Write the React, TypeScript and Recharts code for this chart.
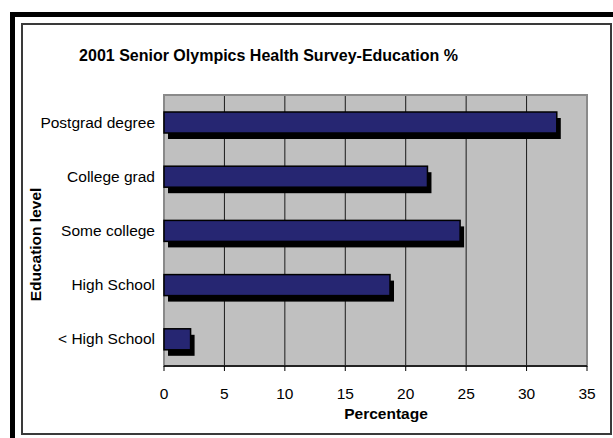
import React from 'react';
import { BarChart, Bar, XAxis, YAxis, CartesianGrid, ReferenceArea } from 'recharts';

const categories = ['Postgrad degree', 'College grad', 'Some college', 'High School', '< High School'];
const percentages = [32.5, 21.8, 24.5, 18.7, 2.2];
const xTicks = [0, 5, 10, 15, 20, 25, 30, 35];
const bandEdges = [0, 1, 2, 3, 4, 5];

const data = categories.map((c, i) => ({ level: c, pct: percentages[i] }));

const FONT = '"Liberation Sans", Arial, Helvetica, sans-serif';

const ShadowBar = (props: any) => {
  const { x, y, width, height } = props;
  if (!width || width <= 0) return null;
  return (
    <g>
      <rect x={x + 4} y={y + 6} width={width} height={height} fill="#000" />
      <rect x={x} y={y} width={width} height={height} fill="#262672" stroke="#000" strokeWidth={1.5} />
    </g>
  );
};

export default function App() {
  return (
    <div style={{ position: 'absolute', left: 0, top: 0, width: 613, height: 438, background: '#fff', overflow: 'hidden', fontFamily: FONT }}>
      <div style={{ position: 'absolute', left: 10, top: 12, width: 700, height: 500, borderLeft: '5px solid #000', borderTop: '5px solid #000' }} />
      <div style={{ position: 'absolute', left: 21, top: 23, width: 587, height: 408, border: '2px solid #3a3a3a' }} />
      <div style={{ position: 'absolute', left: 0, top: 0 }}>
        <BarChart
          width={613}
          height={438}
          data={data}
          layout="vertical"
          margin={{ top: 95, right: 26, bottom: 42, left: 0 }}
          barSize={21}
        >
          <CartesianGrid horizontal={false} vertical={true} fill="#c0c0c0" stroke="#1a1a1a" strokeWidth={1} />
          <ReferenceArea x1={0} x2={35} fill="none" stroke="#8a8a8a" strokeWidth={2} ifOverflow="visible" />
          <YAxis
            yAxisId="edges"
            type="number"
            orientation="left"
            domain={[0, 5]}
            ticks={bandEdges}
            width={0}
            tick={false}
            tickSize={5}
            axisLine={{ stroke: '#555', strokeWidth: 1.5 }}
            tickLine={{ stroke: '#333' }}
          />
          <YAxis
            dataKey="level"
            type="category"
            width={164}
            axisLine={false}
            tickLine={false}
            tickSize={6}
            tickMargin={3}
            tick={{ fill: '#000', fontSize: 15.5, fontFamily: FONT }}
          />
          <XAxis
            type="number"
            domain={[0, 35]}
            ticks={xTicks}
            height={30}
            tickSize={5}
            tickMargin={17}
            axisLine={{ stroke: '#000', strokeWidth: 1.5 }}
            tickLine={{ stroke: '#000' }}
            tick={{ fill: '#000', fontSize: 15.5, fontFamily: FONT }}
          />
          <Bar dataKey="pct" shape={ShadowBar} isAnimationActive={false} />
        </BarChart>
      </div>
      <div style={{ position: 'absolute', left: 60, top: 48, width: 417, textAlign: 'center', fontSize: 16, lineHeight: '16px', fontWeight: 'bold', color: '#000' }}>
        2001 Senior Olympics Health Survey-Education %
      </div>
      <div style={{ position: 'absolute', left: 286, top: 406, width: 200, textAlign: 'center', fontSize: 15.5, lineHeight: '15px', fontWeight: 'bold', color: '#000' }}>
        Percentage
      </div>
      <div style={{ position: 'absolute', left: -65, top: 236.5, width: 200, height: 15, textAlign: 'center', fontSize: 15.5, lineHeight: '15px', fontWeight: 'bold', color: '#000', transform: 'rotate(-90deg)' }}>
        Education level
      </div>
    </div>
  );
}
